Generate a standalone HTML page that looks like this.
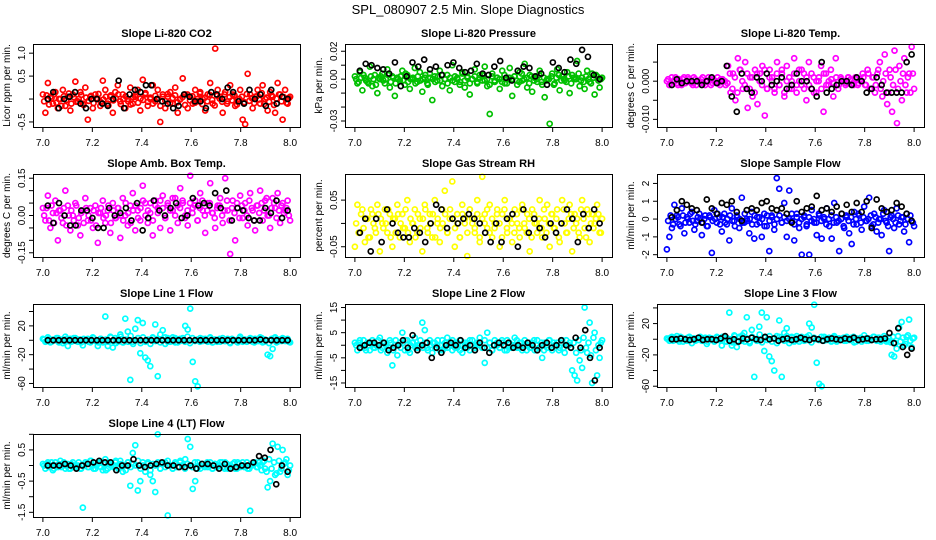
<!DOCTYPE html>
<html><head><meta charset="utf-8"><style>
body{margin:0;background:#fff}
svg{display:block;font-family:"Liberation Sans",sans-serif}
</style></head><body>
<svg id="chart" width="936" height="540" viewBox="0 0 936 540" xmlns="http://www.w3.org/2000/svg">
<rect width="936" height="540" fill="#fff"/>
<text x="468" y="14" text-anchor="middle" font-size="13">SPL_080907  2.5 Min. Slope Diagnostics</text>
</svg>
<script>
const xTicks=[7.0,7.2,7.4,7.6,7.8,8.0];
const xTickLabels=["7.0","7.2","7.4","7.6","7.8","8.0"];
const co2Vals=[0.1,-0.3,0.35,0.05,-0.1,0.15,-0.2,0.0,0.2,-0.15,0.05,-0.25,0.1,0.38,-0.05,0.15,-0.1,0.25,-0.45,0.05,-0.2,0.1,0.0,-0.15,0.4,0.2,-0.1,0.05,-0.3,0.15,0.3,-0.05,0.1,-0.2,0.0,0.25,-0.1,0.05,0.2,-0.25,0.42,0.1,-0.15,0.0,0.3,-0.05,0.2,-0.5,0.1,-0.2,0.05,0.15,-0.1,0.25,-0.3,0.0,0.45,0.1,-0.2,0.05,-0.1,0.2,-0.05,0.15,0.0,-0.25,0.1,0.35,-0.1,1.1,0.2,0.05,-0.3,0.15,-0.05,0.3,0.1,-0.15,0.0,0.2,-0.45,-0.55,0.55,0.1,-0.2,0.05,0.2,-0.1,0.3,0.0,-0.25,0.15,0.05,-0.3,0.35,0.1,-0.45,0.2,-0.1,0.05];
const co2Band=[-0.05,0.08,-0.12,0.02,0.1,-0.08,0.0,-0.15,0.06,-0.02,0.12,-0.1,0.04,-0.06,0.0,0.09,-0.13,0.03,-0.04,0.07,-0.09,0.01,0.11,-0.07,-0.01,0.05,-0.14,0.08,-0.03,0.02,0.1,-0.11,0.0,0.06,-0.05,-0.12,0.04,0.09,-0.08,0.01,-0.02,0.13,-0.06,0.03,-0.1,0.07,0.0,-0.15,0.05,-0.04,0.11,-0.09,0.02,0.08,-0.07,-0.01,0.04,-0.13,0.1,-0.03,0.06,-0.08,0.0,0.12,-0.11,0.03,-0.05,0.09,-0.02,-0.14,0.07,0.01,-0.06,0.1,-0.1,0.04,-0.03,0.08,-0.12,0.0,0.05,-0.07,0.11,-0.04,0.02,-0.09,0.06,-0.01,0.13,-0.11,0.03,-0.06,0.08,-0.13,0.01,0.1,-0.05,0.04,-0.08,0.02];
const co2Black=[0.0,0.15,-0.2,0.0,0.05,0.15,-0.1,-0.2,0.0,0.0,-0.1,-0.15,0.0,0.4,-0.2,0.1,0.2,0.15,0.3,0.3,0.0,-0.05,-0.1,-0.2,-0.15,0.1,0.05,-0.05,-0.05,-0.2,0.15,0.1,0.0,0.25,0.15,-0.05,-0.1,0.2,0.0,0.1,-0.15,0.2,-0.1,0.05,0.0];
const presVals=[2,-3,5,-8,1,-2,9,-5,3,-10,0,4,-3,7,-6,2,-12,1,-1,6,-4,3,-7,0,8,-2,5,-9,1,-3,4,-15,2,-1,6,-5,0,3,-8,10,-2,1,-4,5,-6,2,-11,0,7,-3,3,-1,9,-5,-25,4,-2,1,-7,6,-3,0,8,-12,2,-4,5,-1,11,-6,3,-9,1,-2,6,-4,-13,0,-32,4,-3,7,-8,2,-1,5,-10,3,0,13,-5,1,-7,6,-2,4,-11,2,-6,1];
const presBand=[0,-2,1,3,-1,-3,2,0,-4,1,2,-1,0,3,-2,1,-3,0,2,-1,4,-2,0,1,-3,2,-1,0,3,-4,1,0,-2,2,-1,3,0,-3,1,-1,2,0,-2,4,-1,1,-3,0,2,-2,1,3,-1,0,-4,2,-1,1,0,-2,3,-3,1,0,2,-1,-2,4,0,1,-3,2,-1,0,3,-2,1,-1,0,2,-4,1,3,-1,0,-2,2,-3,1,0,4,-1,-2,2,0,-3,1,3,-1,0];
const presBlack=[6,11,10,8,7,4,12,-5,2,12,9,14,7,9,3,10,12,8,5,6,11,4,3,9,13,1,-1,6,9,8,2,4,-4,12,8,5,14,11,21,16,3,0];
const tempVals=[0,-1,1,0,-0.5,0.5,-1,1,0,0.5,-0.5,1,-1,0,0.5,-0.5,0,1,-1,0.5,0,-0.5,0.5,0,-1,4,-3,2,-5,6,3,-2,5,-7,1,-4,3,-6,2,4,-9,-2,3,1,-3,5,-1,2,-4,4,-2,0,6,-3,3,-1,2,-5,5,-2,1,-3,0,4,-8,2,-1,3,-4,6,-2,1,0,-1,1,0.5,-0.5,1,-1,0.5,2,-1,3,-2,1,-3,2,5,-4,7,-6,3,-8,8,-11,4,-5,6,-3,2,9,-2];
const tempBand=[0.5,-0.5,0,1,-1,0,0.5,-0.5,1,0,-1,0.5,0,-0.5,1,-1,0,0.5,-0.5,0,1,-1,0.5,0,-0.5,2,-2,1,-3,3,0,-1,2,-2,1,-3,2,0,-1,3,-2,1,0,-2,2,-1,3,-3,0,1,-2,2,-1,0,3,-2,1,-1,2,-3,0,1,-2,2,-1,0,0.5,-0.5,1,-1,0.5,0,-0.5,1,0,-1,0.5,-0.5,0,1,-1,2,-2,1,-1,3,-2,0,2,-3,1,-1,3,-2,0,2,-1,1,-3,2];
const tempBlack=[-1,0.5,-0.5,0,0,0,-1,0,1,-0.5,0,4,-4,-8,2,-2,-3,1,0,2,-1,0,1,-2,-1,2,0,0,-2,-4,5,-3,-2,-1,0,0,-1,1,0,-3,-2,1,-1,-3,-3,-3,-3,5,7];
const ambVals=[0.03,-0.02,0.08,-0.05,0.01,0.06,-0.1,0.02,-0.03,0.1,0.04,-0.06,0.0,0.05,-0.04,-0.08,0.02,0.07,-0.02,0.03,-0.05,0.04,-0.11,0.01,0.06,-0.03,0.02,-0.07,0.05,-0.01,0.03,-0.09,0.07,0.0,-0.04,0.04,0.09,-0.06,0.02,-0.02,0.12,0.05,-0.03,0.01,-0.08,0.06,0.03,-0.05,0.08,-0.01,0.04,-0.06,0.02,0.07,-0.03,0.11,0.05,0.0,-0.04,0.16,0.03,0.06,-0.02,0.09,0.02,-0.07,0.05,0.13,0.01,-0.05,0.04,0.07,-0.03,0.15,0.02,-0.155,0.06,-0.1,0.03,0.08,-0.01,0.05,-0.04,0.09,0.02,-0.06,0.04,0.1,-0.02,0.06,0.0,-0.05,0.07,0.03,0.09,-0.03,0.05,0.02,0.06,-0.02];
const ambBand=[0.0,0.03,-0.02,0.04,-0.03,0.01,0.02,-0.01,0.03,-0.04,0.0,0.02,-0.02,0.04,-0.01,0.01,-0.03,0.03,0.0,-0.02,0.02,-0.04,0.01,0.03,-0.01,0.0,0.04,-0.03,0.02,-0.01,0.03,0.0,-0.02,0.05,0.01,-0.03,0.02,0.04,-0.01,0.03,0.06,0.0,0.02,0.05,-0.02,0.04,0.01,0.06,0.03,-0.01,0.05,0.02,0.07,0.0,0.04,0.03,0.06,-0.01,0.02,0.05,0.01,0.04,-0.02,0.03,0.06,0.0,0.02,0.05,0.01,-0.01,0.03,0.04,0.0,0.02,0.06,-0.02,0.03,0.01,0.05,-0.01,0.04,0.02,0.0,0.06,0.03,-0.02,0.04,0.01,0.05,0.02,0.07,0.0,0.03,0.05,-0.01,0.02,0.04,0.01,0.03,0.0];
const ambBlack=[0.04,-0.03,0.05,0.0,-0.04,-0.04,0.02,0.02,-0.01,-0.05,-0.05,0.03,0.0,0.01,0.03,-0.02,0.05,-0.06,-0.01,0.06,0.02,0.0,0.03,0.05,-0.01,0.0,0.07,0.04,0.05,0.04,0.09,0.03,0.1,-0.02,0.03,0.02,-0.01,-0.02,-0.02,0.03,0.01,0.06,-0.01,0.02];
const rhVals=[-0.05,0.04,-0.02,0.03,-0.04,0.01,-0.03,0.02,-0.01,0.04,-0.06,0.0,0.03,-0.02,0.02,-0.05,0.01,0.04,-0.03,0.02,-0.01,0.05,-0.04,0.0,0.03,-0.02,0.01,-0.06,0.04,-0.01,0.02,-0.03,0.05,0.0,-0.04,0.03,0.07,-0.02,0.01,0.09,-0.05,0.02,-0.03,0.04,0.0,-0.07,0.03,0.01,-0.02,0.05,-0.04,0.1,0.02,-0.01,0.04,-0.03,0.0,0.03,-0.05,0.02,0.05,-0.02,0.01,-0.04,0.03,0.0,-0.03,0.04,-0.01,0.02,-0.06,0.03,0.0,-0.02,0.05,-0.03,0.01,0.04,-0.05,0.02,-0.01,0.03,-0.04,0.05,0.0,-0.02,0.04,-0.06,0.02,0.01,-0.03,0.05,-0.01,0.03,-0.04,0.02,0.0,0.04,-0.02,0.01];
const rhBand=[0.0,-0.02,0.02,-0.01,0.01,-0.03,0.03,0.0,-0.02,0.02,0.01,-0.01,0.0,0.03,-0.03,0.01,-0.02,0.02,0.0,-0.01,0.03,-0.02,0.01,0.0,-0.03,0.02,-0.01,0.01,0.03,-0.02,0.0,0.02,-0.03,0.01,-0.01,0.0,0.02,-0.02,0.03,0.01,-0.01,0.0,-0.03,0.02,0.01,-0.02,0.03,0.0,-0.01,0.02,-0.03,0.01,0.0,0.03,-0.02,0.01,-0.01,0.02,0.0,-0.03,0.03,-0.01,0.01,0.0,-0.02,0.02,-0.01,0.03,0.0,-0.02,0.01,-0.03,0.02,0.0,0.01,-0.01,0.03,-0.02,0.0,0.02,-0.01,0.01,-0.03,0.0,0.03,-0.02,0.01,0.02,-0.01,0.0,-0.02,0.03,0.01,-0.03,0.02,0.0,-0.01,0.01,0.02,-0.02];
const rhBlack=[-0.02,0.01,-0.06,0.01,-0.04,0.03,0.0,-0.02,-0.03,-0.03,-0.01,-0.02,-0.04,0.0,0.04,0.03,-0.01,0.01,0.0,0.01,0.02,0.01,0.0,-0.02,-0.04,0.0,-0.04,0.01,0.02,-0.05,0.03,-0.02,0.01,-0.01,-0.03,0.0,-0.02,0.0,0.03,0.01,-0.04,0.02,-0.01,0.03,0.0];
const sampleVals=[-1.7,-1.0,-0.5,0.8,0.2,-0.3,0.6,-0.8,0.1,-0.2,0.4,-0.6,-0.1,0.3,-0.9,0.0,-0.4,0.2,-1.9,0.5,-0.2,0.1,-0.7,0.3,-0.3,-1.2,0.6,-0.1,0.2,-0.5,1.2,-0.2,0.0,-0.8,0.4,-1.1,-0.3,0.1,-1.0,0.3,-0.4,-1.8,0.2,-0.6,2.3,1.7,-0.2,0.9,-1.0,1.6,-0.1,-1.2,0.3,-0.5,-2.0,0.1,-0.3,-2.0,0.5,-0.2,-0.9,0.2,-1.1,0.0,0.6,-0.4,-1.1,0.9,-0.2,-1.8,0.3,-0.5,0.1,-0.8,-1.4,0.4,-0.3,0.2,-0.6,0.7,-0.1,1.2,-0.4,0.3,-0.7,0.0,-0.9,0.5,-0.2,-1.8,0.2,-0.5,0.6,-0.3,0.1,-0.7,0.3,-1.3,-0.1,-0.4];
const sampleBand=[-0.1,0.2,-0.3,0.0,0.1,-0.4,0.2,-0.2,0.0,0.3,-0.1,-0.3,0.1,0.0,-0.2,0.2,-0.4,0.1,-0.1,0.0,0.3,-0.3,0.1,-0.2,0.0,0.2,-0.1,-0.4,0.1,0.0,-0.2,0.3,-0.1,0.0,-0.3,0.2,0.1,-0.2,0.0,-0.4,0.2,-0.1,0.1,-0.3,0.0,0.2,-0.2,0.1,-0.1,0.0,0.3,-0.3,0.1,-0.2,0.0,0.2,-0.4,0.1,-0.1,0.0,-0.2,0.3,-0.1,0.1,-0.3,0.0,0.2,-0.2,0.1,-0.1,0.0,-0.4,0.2,-0.1,0.1,-0.3,0.0,0.3,-0.2,0.1,-0.1,0.0,0.2,-0.3,0.1,-0.2,0.0,0.3,-0.1,-0.4,0.1,0.0,-0.2,0.2,-0.1,0.1,-0.3,0.0,0.2,-0.2];
const sampleBlack=[0.1,0.5,1.0,0.8,0.6,0.5,-0.2,1.1,0.6,0.3,0.9,0.8,1.0,0.4,-0.1,0.5,0.6,0.5,0.9,1.0,0.6,0.5,0.6,0.3,-0.2,1.0,0.4,0.6,0.7,1.3,0.5,0.6,0.4,0.7,0.3,0.8,0.4,0.9,0.4,1.0,-0.5,1.1,0.6,0.4,0.5,0.9,0.7,0.3,-0.1];
const line1Vals=[2,-2,4,-3,1,0,3,-1,-4,5,-8,2,-1,3,-2,1,-7,0,2,-3,4,-1,-8,2,-3,33,-8,5,-10,3,-2,8,-3,30,12,-55,-2,16,28,-18,24,-24,-28,-36,4,22,-50,8,14,-5,3,-2,4,-3,1,-1,3,20,15,44,-30,-57,-64,3,-1,2,-2,4,-3,1,0,-2,3,-1,2,-4,1,0,-3,5,-2,1,-1,3,-2,2,-1,4,-3,1,-20,-22,-12,4,-2,1,3,-1,2,-3];
const line1Band=[1,-1,2,-2,0,3,-3,1,-1,2,0,-2,3,-1,1,-3,2,0,-2,1,3,-1,-3,2,0,1,-2,4,-1,-4,2,5,-3,1,-2,6,-5,0,3,-4,4,-2,1,-5,3,-1,2,-3,0,4,-2,1,-1,3,-3,2,0,-2,5,-4,3,-1,1,-2,2,0,-1,3,-3,1,-2,2,0,-1,1,-3,2,0,-2,3,-1,1,-2,0,2,-3,1,-1,3,-2,0,-4,2,3,-3,1,-1,2,0,-2];
const line1Black=[0,0,0,0,0,0,0,0,0,0,0,0,0,0,0,0,0,0,0,0,0,0,0,0,0,0,0,0,0,0,0,0,0,0,0,0,0,0,0,1,0,0,0,0,0];
const line2Vals=[1,-2,2,0,-1,1,-2,2,-1,0,3,-1,1,-3,2,-8,0,-4,1,5,-2,2,-3,1,3,-1,0,9,6,-1,2,-3,1,0,-2,2,-1,3,0,-2,1,-1,2,-3,0,1,-2,2,-1,0,3,-1,-7,5,1,-2,2,0,-1,1,-2,2,-1,0,3,-1,1,-2,2,0,-1,1,-2,2,-1,-5,1,-1,2,-2,0,1,-1,2,-3,0,1,-10,-12,-14,-6,-9,15,-3,9,-15,5,-12,-5,2];
const line2Band=[0,1,-1,2,-2,0,1,-1,0,2,-2,1,0,-1,1,-2,2,0,-1,1,2,-2,0,1,-1,0,2,-1,1,-2,0,1,-1,2,0,-2,1,-1,0,2,-1,1,-2,0,1,-1,2,0,-2,1,0,-1,2,-1,1,-2,0,1,-1,2,0,-2,1,-1,0,2,-1,1,0,-2,1,-1,2,0,-1,1,-2,0,2,-1,1,0,-2,1,-1,2,0,-1,1,-3,2,-2,3,-1,1,-4,3,-2,0,1];
const line2Black=[-1,0,1,1,0,1,-2,-1,0,2,-1,4,-2,0,1,-5,-1,-3,0,1,0,2,-1,0,-2,1,-1,-3,0,1,0,1,-1,0,-1,1,0,-2,0,1,-1,0,2,0,-1,3,-1,6,-5,-14,-1];
const line3Vals=[1,-2,3,-1,4,-3,2,0,-2,3,-5,1,-1,2,-2,0,-6,2,1,-3,3,-1,-8,2,-3,34,-8,5,-10,3,-2,8,28,-3,12,-48,-2,16,34,-15,28,-22,-28,-40,4,24,-48,8,14,-5,3,-2,4,-3,1,-1,3,20,15,44,-30,-57,-60,3,-1,2,-2,4,-3,1,0,-2,3,-1,2,-4,1,0,-3,5,-2,1,-1,3,-2,2,-1,4,-3,1,-20,-22,-12,15,22,-8,3,25,-10,2];
const line3Band=[0,2,-2,1,-1,3,-3,0,2,-1,1,-2,0,3,-1,2,-3,1,0,-2,2,-1,3,-3,1,0,-4,4,-2,2,5,-3,1,-5,3,0,-2,6,-4,2,-1,4,-3,1,-5,3,0,-2,4,-1,2,-3,1,0,3,-2,-1,5,-4,2,0,-1,3,-2,1,0,-3,2,-1,1,0,2,-2,1,-1,3,-3,0,2,-1,1,-2,0,3,-1,2,-3,1,0,-2,-4,3,-5,4,-3,2,-6,5,-2,1];
const line3Black=[0,0,1,0,-1,0,2,-1,0,0,-1,1,4,-2,0,-3,1,0,2,0,-1,3,0,1,-2,0,1,-1,0,2,0,-1,1,0,-2,0,1,0,-1,1,0,2,-1,0,1,-1,0,0,1,8,-5,14,-10,-20,-12];
const line4Vals=[0.05,-0.1,0.1,0,-0.15,0.1,-0.05,0.15,0,-0.1,0.05,-0.1,0.1,-0.05,0.0,-0.1,-1.35,0.1,-0.05,0.15,0,-0.1,0.05,0.1,-0.15,0.2,-0.1,0.05,0,0.1,-0.05,0.15,-0.2,0,0.1,-0.65,0.4,0.65,-0.8,-0.5,0.1,-0.2,0.05,-0.3,-0.5,-0.85,1.0,-0.1,0.05,0.1,-1.6,0.0,-0.1,0.1,-0.05,0.15,0,0.2,0.85,0.6,-0.75,-0.5,0.1,-0.1,0.05,0,-0.05,0.1,-0.1,0.05,0,0.1,-0.05,0.1,-0.1,0,0.05,-0.1,0.1,-0.05,0.1,0,-0.1,-1.45,0.05,0.1,-0.05,0,0.1,-0.1,-0.7,-0.5,0.7,-0.3,0.6,-0.2,0.5,0.1,-0.3,0.0];
const line4Band=[0,0.05,-0.05,0.1,-0.1,0,0.05,-0.05,0.1,0,-0.1,0.05,0,-0.05,0.1,-0.1,0,0.05,-0.05,0.15,-0.1,0,0.1,-0.05,0.05,-0.15,0.1,0,-0.05,0.15,-0.1,0.05,0,-0.15,0.1,-0.05,0.05,0,0.15,-0.1,0,-0.05,0.1,-0.15,0.05,0,0.1,-0.1,0.05,-0.05,0.15,0,-0.1,0.05,-0.05,0.1,0,-0.1,0.05,0,-0.05,0.1,-0.1,0,0.05,-0.05,0.1,0,-0.1,0.05,-0.05,0,0.1,-0.1,0.05,0,-0.05,0.1,-0.1,0.05,0,-0.05,0.1,-0.1,0,0.05,-0.05,0.1,-0.15,0.15,-0.2,0.2,-0.1,0.1,-0.25,0.15,-0.1,0.05,0.2,-0.15];
const line4Black=[0,0,0,0.05,0,-0.1,0,0.05,0.1,0.15,0.1,0.1,-0.15,0,0,0.2,0,-0.05,0,0.05,0.1,0,0,-0.05,-0.05,0,-0.1,0.05,0.05,0,-0.1,0.05,-0.1,-0.05,0,0,0.1,0.3,0.25,0.5,-0.6,0,-0.2];

const panels=[
 {name:'co2',title:'Slope Li-820 CO2',ylab:'Licor ppm per min.',col:0,row:0,color:'#ff0000',vals:co2Vals,band:co2Band,black:co2Black,dom:[-0.61,1.2],ticks:[1.0,0.5,0,-0.5],labels:['1.0','0.5','','-0.5']},
 {name:'pressure',title:'Slope Li-820 Pressure',ylab:'kPa per min.',col:1,row:0,color:'#00c000',vals:presVals,band:presBand,black:presBlack,dom:[-34.3,25.2],ticks:[20,10,0,-10,-20,-30],labels:['0.02','','0.00','','','-0.03']},
 {name:'temp',title:'Slope Li-820 Temp.',ylab:'degrees C per min.',col:2,row:0,color:'#ff00ff',vals:tempVals,band:tempBand,black:tempBlack,dom:[-12,9.74],ticks:[5,0,-5,-10],labels:['','0.000','','-0.010']},
 {name:'amb-temp',title:'Slope Amb. Box Temp.',ylab:'degrees C per min.',col:0,row:1,color:'#ff00ff',vals:ambVals,band:ambBand,black:ambBlack,dom:[-0.167,0.167],ticks:[0.15,0.1,0.05,0,-0.05,-0.1,-0.15],labels:['0.15','','','0.00','','','-0.15']},
 {name:'rh',title:'Slope Gas Stream RH',ylab:'percent per min.',col:1,row:1,color:'#ffff00',vals:rhVals,band:rhBand,black:rhBlack,dom:[-0.072,0.106],ticks:[0.05,0,-0.05],labels:['0.05','','-0.05']},
 {name:'sample-flow',title:'Slope Sample Flow',ylab:'ml/min per min.',col:2,row:1,color:'#0000ff',vals:sampleVals,band:sampleBand,black:sampleBlack,dom:[-2.13,2.53],ticks:[2,1,0,-1,-2],labels:['2','1','0','-1','-2']},
 {name:'line1',title:'Slope Line 1 Flow',ylab:'ml/min per min.',col:0,row:2,color:'#00ffff',vals:line1Vals,band:line1Band,black:line1Black,dom:[-64.9,50.4],ticks:[40,20,0,-20,-40,-60],labels:['','20','','-20','','-60']},
 {name:'line2',title:'Slope Line 2 Flow',ylab:'ml/min per min.',col:1,row:2,color:'#00ffff',vals:line2Vals,band:line2Band,black:line2Black,dom:[-16.6,16.4],ticks:[15,10,5,0,-5,-10,-15],labels:['15','','5','','-5','','-15']},
 {name:'line3',title:'Slope Line 3 Flow',ylab:'ml/min per min.',col:2,row:2,color:'#00ffff',vals:line3Vals,band:line3Band,black:line3Black,dom:[-61,45],ticks:[40,20,0,-20,-40,-60],labels:['','20','','-20','','-60']},
 {name:'line4',title:'Slope Line 4 (LT) Flow',ylab:'ml/min per min.',col:0,row:3,color:'#00ffff',vals:line4Vals,band:line4Band,black:line4Black,dom:[-1.65,1.01],ticks:[1,0.5,0,-0.5,-1,-1.5],labels:['','0.5','','-0.5','','-1.5']}
];
const svg=document.getElementById('chart');
const NS='http://www.w3.org/2000/svg';
function mk(tag,attrs,parent){const e=document.createElementNS(NS,tag);for(const k in attrs)e.setAttribute(k,attrs[k]);parent.appendChild(e);return e;}
const colX=[33,345,657], rowY=[44,174,304,434], W=267, H=83;
panels.forEach(p=>{
  const L=colX[p.col], T=rowY[p.row];
  const g=mk('g',{},svg);
  
  
  const xs=v=>L+W*(v-6.96)/1.08;
  const ys=v=>T+H*(p.dom[1]-v)/(p.dom[1]-p.dom[0]);
  const t=mk('text',{x:L+W/2,y:T-7,'text-anchor':'middle','font-size':11,'font-weight':'bold'},g);
  t.textContent=p.title;
  
  
  const yl=mk('text',{x:0,y:0,transform:`translate(${L-23},${T+H/2}) rotate(-90)`,'text-anchor':'middle','font-size':10},g);
  yl.textContent=p.ylab;
  
  
  const pts=mk('g',{fill:'none','stroke-width':1.7},g);
  
  
  p.band.forEach((v,i)=>{
    const c=mk('circle',{cx:xs(7.005+0.99*i/(p.band.length-1)),cy:ys(v),r:2.5,stroke:p.color},pts);
    
    
  });
  p.vals.forEach((v,i)=>{
    const c=mk('circle',{cx:xs(7+i/(p.vals.length-1)),cy:ys(v),r:2.5,stroke:p.color},pts);
    
    
  });
  p.black.forEach((v,i)=>{
    const c=mk('circle',{cx:xs(7.02+0.97*i/(p.black.length-1)),cy:ys(v),r:2.5,stroke:'#000'},pts);
    
    
  });
  const box=mk('rect',{x:L+0.5,y:T+0.5,width:W,height:H,fill:'none',stroke:'#000'},g);
  
  
  xTicks.forEach((v,i)=>{
    const x=xs(v);
    mk('line',{x1:x,x2:x,y1:T+H+0.5,y2:T+H+5,stroke:'#000'},g);
    const tl=mk('text',{x:x,y:T+H+19,'text-anchor':'middle','font-size':10},g);
    tl.textContent=xTickLabels[i];
    
    
  });
  p.ticks.forEach((v,i)=>{
    const y=ys(v);
    mk('line',{x1:L-4,x2:L+0.5,y1:y,y2:y,stroke:'#000'},g);
    if(p.labels[i]){
      const tl=mk('text',{x:0,y:0,transform:`translate(${L-8},${y}) rotate(-90)`,'text-anchor':'middle','font-size':10},g);
      tl.textContent=p.labels[i];
      
      
    }
  });
});
</script>
</body></html>
